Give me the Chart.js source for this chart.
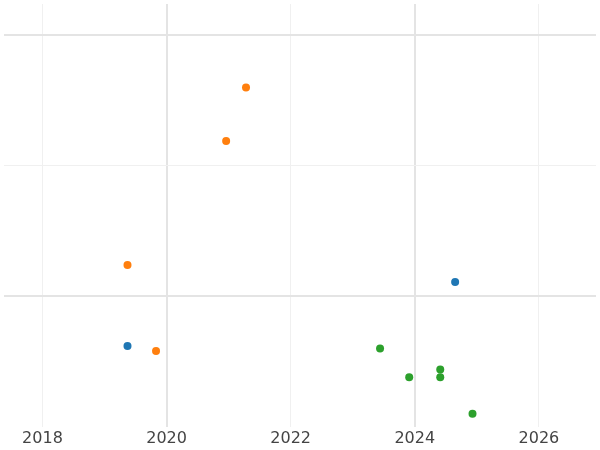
<!DOCTYPE html>
<html>
<head>
<meta charset="utf-8">
<script src="https://cdn.jsdelivr.net/npm/chart.js@4"></script>
<style>
  html, body { margin: 0; padding: 0; background: #fff; }
  #wrap { width: 600px; height: 450px; }
</style>
</head>
<body>
<div id="wrap"><canvas id="myChart"></canvas></div>
<script>
Chart.defaults.font.family = '"DejaVu Sans", sans-serif';
Chart.defaults.color = '#444';

var xTicks = [2018, 2020, 2022, 2024, 2026];
var yTicks = [1, 2, 3];
var blueX = [2019.37, 2024.65];
var blueY = [0.62, 1.11];
var orangeX = [2021.28, 2020.96, 2019.37, 2019.83];
var orangeY = [2.60, 2.19, 1.24, 0.58];
var greenX = [2023.44, 2023.91, 2024.41, 2024.41, 2024.93];
var greenY = [0.60, 0.38, 0.44, 0.38, 0.10];

function pts(xs, ys) {
  return xs.map(function (x, i) { return { x: x, y: ys[i] }; });
}

function series(label, xs, ys, color) {
  return {
    label: label,
    data: pts(xs, ys),
    backgroundColor: color,
    borderColor: color,
    pointRadius: 4,
    pointBorderWidth: 0
  };
}

new Chart(document.getElementById("myChart"), {
  type: 'scatter',
  data: {
    datasets: [
      series("A", blueX, blueY, "#1f77b4"),
      series("B", orangeX, orangeY, "#ff7f0e"),
      series("C", greenX, greenY, "#2ca02c")
    ]
  },
  options: {
    responsive: true,
    maintainAspectRatio: false,
    animation: false,
    layout: { padding: { top: -4, left: -4, right: -4, bottom: 0 } },
    plugins: { legend: { display: false }, tooltip: { enabled: false } },
    scales: {
      x: {
        min: 2017.38,
        max: 2026.92,
        afterBuildTicks: function (axis) {
          axis.ticks = xTicks.map(function (v) { return { value: v }; });
        },
        ticks: {
          font: { size: 16 }, color: '#444', padding: 2,
          callback: function (v) { return String(v); }
        },
        border: { display: false },
        grid: {
          drawTicks: false,
          color: function (c) {
            var v = c.tick && c.tick.value;
            return (v === 2020 || v === 2024) ? '#e4e4e4' : '#f0f0f0';
          },
          lineWidth: function (c) {
            var v = c.tick && c.tick.value;
            return (v === 2020 || v === 2024) ? 2 : 1;
          }
        }
      },
      y: {
        min: 0,
        max: 3.24,
        afterBuildTicks: function (axis) {
          axis.ticks = yTicks.map(function (v) { return { value: v }; });
        },
        ticks: { display: false },
        border: { display: false },
        grid: {
          drawTicks: false,
          color: function (c) {
            var v = c.tick && c.tick.value;
            return v === 2 ? '#f0f0f0' : '#e4e4e4';
          },
          lineWidth: function (c) {
            var v = c.tick && c.tick.value;
            return v === 2 ? 1 : 2;
          }
        }
      }
    }
  }
});
</script>
</body>
</html>
